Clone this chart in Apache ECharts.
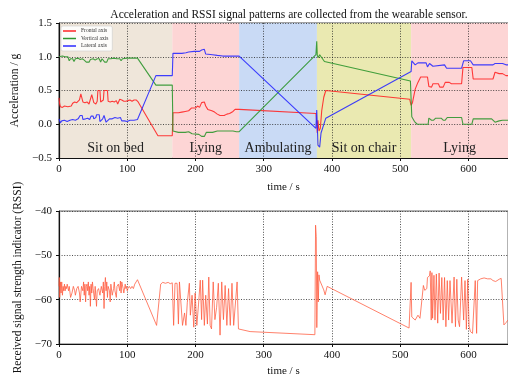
<!DOCTYPE html>
<html>
<head>
<meta charset="utf-8">
<script src="https://cdn.jsdelivr.net/npm/echarts@6/dist/echarts.min.js"></script>
<style>
  html, body { margin: 0; padding: 0; background: #fff; }
  #main { width: 508px; height: 379px; }
</style>
</head>
<body>
<div id="main"></div>
<script>
// 数据: [时间 s, 值]
var frontal = [[0,0.39],[1,0.3],[2,0.26],[5,0.25],[8,0.27],[10,0.25],[13,0.26],[15,0.28],[18,0.27],[20,0.31],[23,0.33],[26,0.32],[28,0.33],[30,0.36],[32,0.45],[34,0.45],[35,0.33],[38,0.32],[41,0.33],[44,0.3],[46,0.31],[48,0.44],[50,0.44],[51,0.32],[54,0.3],[56,0.34],[57,0.5],[60,0.5],[61,0.33],[63,0.31],[65,0.36],[66,0.5],[71,0.5],[72,0.34],[75,0.33],[78,0.34],[81,0.33],[84,0.35],[86,0.3],[88,0.29],[89,0.37],[92,0.36],[95,0.34],[98,0.34],[101,0.35],[104,0.36],[107,0.34],[110,0.36],[113,0.36],[116,0.33],[145,-0.17],[166,-0.17],
  [167,0.17],[175,0.17],[180,0.18],[185,0.19],[190,0.2],[194,0.24],[200,0.24],[203,0.27],[206,0.25],[209,0.32],[213,0.33],[215,0.27],[218,0.22],[224,0.2],[228,0.18],[232,0.15],[236,0.13],[242,0.13],[246,0.15],[250,0.16],[255,0.19],[258,0.22],[264,0.22],
  [376.5,0.16],[377.5,0.05],[378.5,-0.13],[379.5,0.06],[381,-0.1],[383,-0.06],[385,0.2],[388,0.4],[391,0.5],[514,0.37],[516,0.28],[518,0.32],[522,0.52],[526,0.62],[530,0.7],[540,0.7],[542,0.56],[546,0.55],[548,0.6],[556,0.6],[558,0.55],[563,0.55],[566,0.62],[572,0.62],[575,0.6],[590,0.6],[592,0.84],[605,0.84],[607,0.67],[636,0.67],[639,0.77],[645,0.75],[650,0.75],[655,0.72],[660,0.72]];

var vertical = [[0,1.0],[2,1.02],[5,1.01],[7,1.03],[9,1.0],[11,0.98],[13,1.0],[15,0.94],[17,0.97],[20,0.97],[22,0.93],[24,0.97],[28,0.98],[31,0.96],[34,0.97],[37,0.95],[40,0.92],[44,0.92],[46,0.96],[50,0.97],[53,0.95],[56,0.97],[59,0.97],[61,0.92],[63,0.97],[65,0.97],[67,0.92],[70,0.92],[72,0.97],[76,0.97],[80,0.98],[85,0.97],[89,0.97],[91,0.94],[93,0.97],[100,0.98],[108,0.98],[115,0.98],[142,0.58],[166,0.58],
  [167,-0.1],[175,-0.12],[185,-0.12],[190,-0.11],[195,-0.14],[205,-0.15],[209,-0.18],[213,-0.18],[216,-0.12],[225,-0.12],[232,-0.1],[255,-0.1],[260,-0.11],[264,-0.11],
  [376.5,1.03],[377.7,1.23],[378.5,1.02],[380,0.99],[382,1.03],[384,1.03],[389,0.93],[515,0.64],[517,0.11],[521,0.04],[525,0.0],[541,0.0],[542,0.09],[546,0.06],[549,0.06],[552,0.09],[560,0.09],[563,0.06],[566,0.06],[569,0.1],[590,0.1],[592,0.0],[605,0.0],[607,0.08],[634,0.08],[639,0.03],[645,0.05],[650,0.06],[660,0.06]];

var lateral = [[0,0.08],[2,0.02],[4,0.05],[8,0.06],[12,0.04],[16,0.06],[20,0.07],[24,0.06],[28,0.08],[31,0.13],[34,0.13],[35,0.07],[39,0.08],[42,0.09],[45,0.07],[47,0.12],[50,0.12],[51,0.08],[54,0.1],[55,0.14],[59,0.14],[60,0.04],[62,0.03],[64,0.08],[66,0.13],[68,0.13],[69,0.03],[71,0.04],[74,0.08],[78,0.08],[82,0.1],[86,0.09],[90,0.1],[92,0.05],[96,0.05],[100,0.04],[104,0.06],[110,0.06],[115,0.07],[142,0.72],[166,0.72],
  [167,1.05],[180,1.05],[186,1.06],[190,1.07],[198,1.08],[206,1.08],[209,1.1],[213,1.11],[215,1.04],[225,1.03],[232,1.02],[240,1.01],[264,1.01],
  [376.5,-0.06],[377.7,0.21],[378.5,0.0],[379.5,-0.31],[382,-0.34],[384,-0.13],[391,0.09],[516,0.78],[517,0.94],[522,0.88],[526,0.91],[538,0.91],[540,0.85],[543,0.9],[548,0.86],[550,0.88],[565,0.88],[568,0.83],[590,0.83],[593,0.94],[603,0.94],[607,0.88],[636,0.88],[639,0.9],[650,0.9],[655,0.88],[660,0.88]];

var rssi = [[0,-57],[0.5,-55],[1,-59.5],[2,-56],[3,-58.5],[4,-56],[5,-59],[6,-57],[7,-58],[8,-56.5],[9,-58],[10,-57],[11,-57.5],[12,-56.5],[14,-58],[15,-57],[17,-59.5],[19,-58.5],[21,-57],[23,-58],[24,-59],[26,-57.5],[28,-57],[30,-58.5],[31,-60.5],[33,-57],[35,-58],[36,-56],[37,-59],[38,-56.5],[39,-60.5],[40,-57],[41,-56.5],[42,-58],[43,-56],[44,-59],[45,-57],[46,-61.5],[47,-56.5],[48,-58.5],[49,-56],[50,-57.5],[52,-60],[53,-57],[55,-61.5],[56,-58],[58,-57.5],[60,-59],[62,-57],[64,-58.5],[65,-56],[66,-62],[67,-57],[68,-55],[69,-58],[70,-56],[71,-59.5],[72,-57],[74,-58],[75,-60.5],[76,-56.5],[78,-59],[80,-57.5],[81,-56],[82,-58],[84,-59.5],[85,-57],[87,-56.5],[89,-58],[90,-55.8],[91,-58.5],[92,-56],[94,-57.5],[95,-58.5],[97,-56.5],[98,-57.5],[99,-57],[100,-58],[101,-57.5],[103,-57],[105,-57.5],[107,-57],[109,-57.5],[111,-56.5],[113,-56],[115,-55.5],
  [143,-65.8],[149,-56.5],[152,-56.1],[156,-56.3],[160,-56.1],[163,-56.4],[166,-56.2],[168,-65.8],[170,-56.3],[173,-56.3],[175,-65.5],[176.5,-56],[179,-56.3],[181,-65.8],[184,-63],[186,-65.8],[188,-60.7],[191,-56.3],[192.5,-63.5],[195,-59],[197.5,-66.2],[199.5,-58.5],[202,-65.8],[204.5,-61],[207,-55.6],[209,-64.5],[210.5,-55.6],[213,-65.8],[215,-59],[217.5,-65.5],[219.5,-54.9],[221.5,-65.8],[223.5,-66.6],[226,-56],[228.5,-64.5],[231,-61.7],[233.5,-56.3],[236,-68],[238.5,-56],[241,-64.5],[243.5,-56.8],[246,-65.8],[248.5,-57.5],[251,-65.8],[253.5,-56.3],[256,-65.8],[258.5,-65.8],[261,-56],[263,-66.6],[280,-67.2],
  [375,-67.9],[376,-43.2],[377,-45.8],[377.8,-66.3],[379,-53.7],[380,-60.5],[381,-54.4],[382,-55.6],[385,-56.7],[388,-57.8],[390,-58.9],[393,-57],[513,-66.4],[516,-56.1],[517,-63.9],[522,-64.6],[526,-63.5],[529,-64.2],[534,-56.8],[536,-57.9],[539,-57.5],[540,-55],[543,-54.6],[544,-53.5],[545.5,-64.6],[546.5,-53.9],[547.5,-64.2],[549.5,-54.5],[551,-64.6],[553,-54.2],[555,-65.3],[557,-54],[559,-63.1],[561,-55],[563,-64.6],[565,-55],[567,-66.1],[569,-55.7],[571,-64.6],[573,-55.7],[576,-65.3],[579,-54.9],[581,-66.1],[583,-55.4],[585,-64.6],[587,-66.1],[590,-54.9],[593,-64.6],[595,-55.7],[597,-66.7],[599,-55.4],[601,-66],[603,-67.2],[606,-67.6],[610,-55.7],[612,-67.6],[613.5,-55.7],[618,-55.3],[623,-55.1],[628,-55.3],[633,-55.3],[636,-55.7],[640,-55.9],[645,-55.4],[648,-55.2],[652,-65.7],[655,-65.2],[658,-64.6]];

// 活动区间
var activities = ['Sit on bed', 'Lying', 'Ambulating', 'Sit on chair', 'Lying'];
var activityBounds = [0, 166, 264, 378, 516, 660];
var activityColors = ['#efe6da', '#fdd5d5', '#c9daf5', '#eae9b1', '#fdd5d5'];

var seriesNames = ['Frontal axis', 'Vertical axis', 'Lateral axis'];
var seriesColors = ['#ff2626', '#2e962e', '#2a2aff'];

var serif = 'Liberation Serif';
function minus(v) { return String(v).replace('-', '\u2212'); }

var areaData = activities.map(function (name, i) {
  return [
    { name: name, xAxis: activityBounds[i], itemStyle: { color: activityColors[i] } },
    { xAxis: activityBounds[i + 1] }
  ];
});

var gridLine = { show: true, lineStyle: { type: [1, 1.6], color: '#222', width: 0.8 } };

function xAx(idx, gap) {
  return {
    type: 'value', gridIndex: idx, min: 0, max: 658, interval: 100, z: 2,
    name: 'time / s', nameLocation: 'middle', nameGap: gap,
    nameTextStyle: { fontFamily: serif, fontSize: 11, color: '#111' },
    axisLine: { show: true, onZero: false, lineStyle: { color: '#111', width: 1.2 } },
    axisTick: { show: true, length: 3, lineStyle: { color: '#111' } },
    axisLabel: { fontFamily: serif, fontSize: 11, color: '#111', margin: 6, showMaxLabel: false },
    splitLine: gridLine
  };
}

var chart = echarts.init(document.getElementById('main'));
var option = {
  animation: false,
  textStyle: { fontFamily: serif },
  title: {
    text: 'Acceleration and RSSI signal patterns are collected from the wearable sensor.',
    left: 284, textAlign: 'center', top: 4,
    textStyle: { fontFamily: serif, fontSize: 11.5, fontWeight: 'normal', color: '#111' }
  },
  legend: {
    data: seriesNames, orient: 'vertical', left: 61, top: 26,
    selectedMode: false, icon: 'rect', itemWidth: 13, itemHeight: 1.5, itemGap: 1.5,
    backgroundColor: 'rgba(255,255,255,0.85)', borderColor: '#ccc', borderWidth: 0.6, borderRadius: 2,
    padding: [2, 4, 2, 2],
    textStyle: { fontFamily: serif, fontSize: 5.5, color: '#333', lineHeight: 6 }
  },
  grid: [
    { left: 59, top: 23, right: 0, height: 135, show: true, borderColor: '#444', borderWidth: 1, backgroundColor: 'transparent' },
    { left: 59, top: 211, right: 0, height: 133, show: true, borderColor: '#666', borderWidth: 1, backgroundColor: 'transparent' }
  ],
  xAxis: [xAx(0, 24), xAx(1, 22)],
  yAxis: [
    {
      type: 'value', gridIndex: 0, min: -0.5, max: 1.5, interval: 0.5, z: 2,
      name: 'Acceleration / g', nameLocation: 'middle', nameGap: 30,
      nameTextStyle: { fontFamily: serif, fontSize: 11.5, color: '#111' },
      axisLine: { show: true, onZero: false, lineStyle: { color: '#111', width: 1.2 } },
      axisTick: { show: true, length: 3, lineStyle: { color: '#111' } },
      axisLabel: { fontFamily: serif, fontSize: 11, color: '#111', margin: 7,
        formatter: function (v) { return minus(v.toFixed(1)); } },
      splitLine: gridLine
    },
    {
      type: 'value', gridIndex: 1, min: -70, max: -40, interval: 10, z: 2,
      name: 'Received signal strength indicator (RSSI)', nameLocation: 'middle', nameGap: 26,
      nameTextStyle: { fontFamily: serif, fontSize: 11.5, color: '#111' },
      axisLine: { show: true, onZero: false, lineStyle: { color: '#111', width: 1.2 } },
      axisTick: { show: true, length: 3, lineStyle: { color: '#111' } },
      axisLabel: { fontFamily: serif, fontSize: 11, color: '#111', margin: 7,
        formatter: function (v) { return minus(v); } },
      splitLine: gridLine
    }
  ],
  series: [
    {
      name: 'activity', type: 'line', xAxisIndex: 0, yAxisIndex: 0, data: [], silent: true,
      markArea: {
        silent: true, z: 1,
        label: { show: true, position: 'insideBottom', distance: 3, fontFamily: serif, fontSize: 14, color: '#222' },
        data: areaData
      }
    }
  ].concat([frontal, vertical, lateral].map(function (d, i) {
    return {
      name: seriesNames[i], type: 'line', xAxisIndex: 0, yAxisIndex: 0, z: 3,
      data: d, showSymbol: false, symbol: 'none',
      itemStyle: { color: seriesColors[i] },
      lineStyle: { color: seriesColors[i], width: 1.1, opacity: 0.9 }
    };
  })).concat([{
    name: 'RSSI', type: 'line', xAxisIndex: 1, yAxisIndex: 1, z: 3,
    data: rssi, showSymbol: false, symbol: 'none',
    lineStyle: { color: '#ff5a3c', width: 0.9, opacity: 0.85 }
  }])
};
chart.setOption(option);
</script>
</body>
</html>
